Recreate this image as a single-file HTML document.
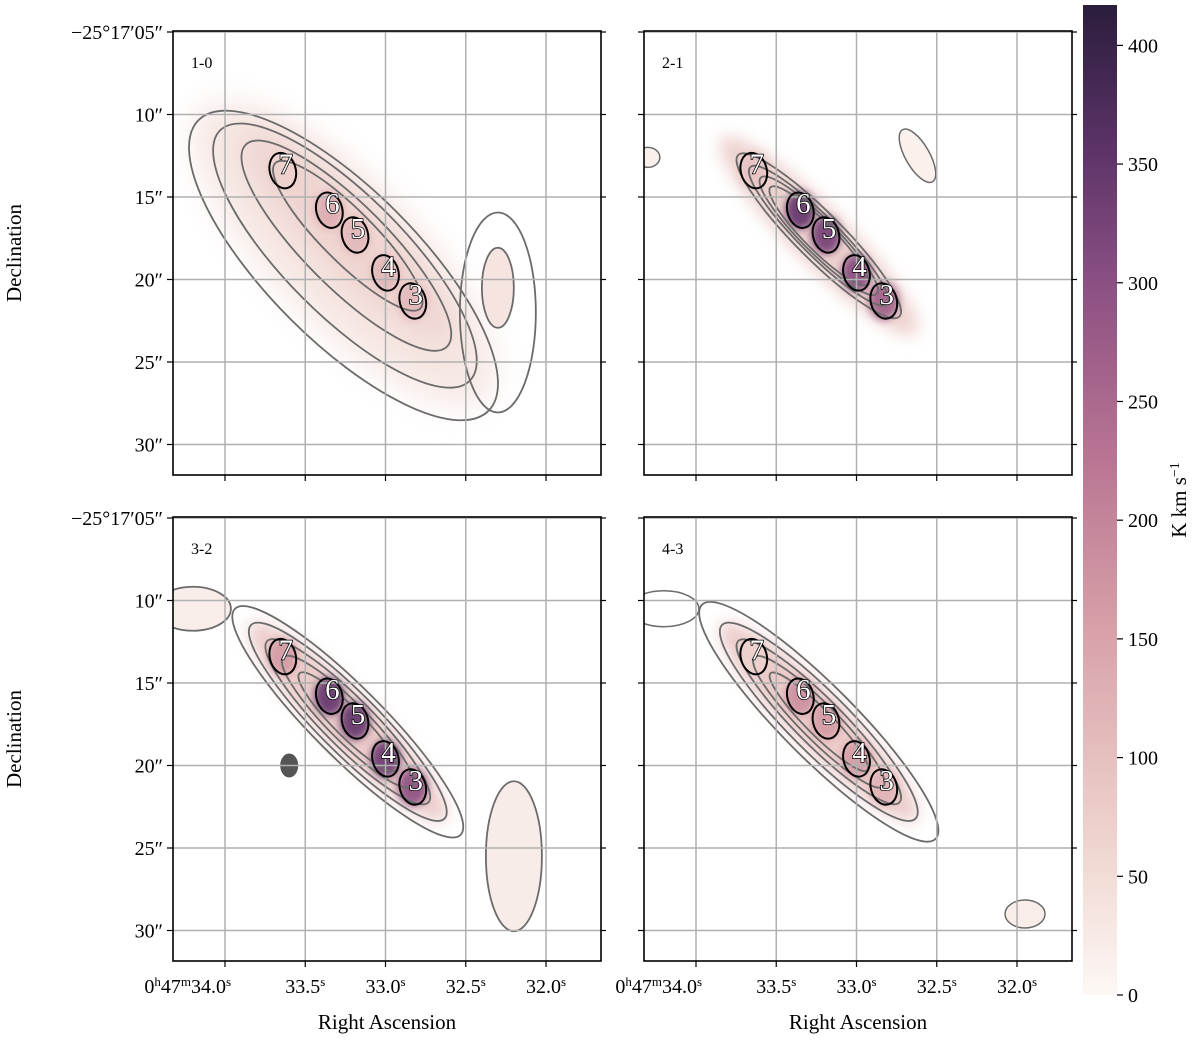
<!DOCTYPE html>
<html><head><meta charset="utf-8"><style>
body{margin:0;background:#fff;}
svg{display:block;font-family:"Liberation Serif",serif;}
</style></head><body>
<svg id="fig" width="1200" height="1045" viewBox="0 0 1200 1045" xmlns="http://www.w3.org/2000/svg">
<defs>
<filter id="blur8" x="-50%" y="-50%" width="200%" height="200%"><feGaussianBlur stdDeviation="8"/></filter>
<filter id="blur4" x="-50%" y="-50%" width="200%" height="200%"><feGaussianBlur stdDeviation="4"/></filter>
<filter id="blur16" x="-50%" y="-50%" width="200%" height="200%"><feGaussianBlur stdDeviation="16"/></filter>
<linearGradient id="cbar" x1="0" y1="1" x2="0" y2="0">
<stop offset="0" stop-color="#fdf8f6"/>
<stop offset="0.12" stop-color="#f2dcd6"/>
<stop offset="0.36" stop-color="#d9a3a9"/>
<stop offset="0.55" stop-color="#b77392"/>
<stop offset="0.72" stop-color="#8b4f83"/>
<stop offset="0.86" stop-color="#5a3266"/>
<stop offset="1" stop-color="#2b1d3c"/>
</linearGradient>
</defs>
<g id="panels"></g>
<g id="cb"></g>
</svg>
<script>
// source data
const sourceLabels = ["7","6","5","4","3"];
const sourceRA = [33.64, 33.35, 33.19, 33.00, 32.83];
const sourceDec = [13.4, 15.8, 17.3, 19.6, 21.3];
// per-panel peak intensities (K km/s) per source
const panelNames = ["1-0","2-1","3-2","4-3"];
const peak10 = [70, 130, 110, 110, 110];
const peak21 = [90, 340, 320, 300, 260];
const peak32 = [160, 340, 340, 330, 290];
const peak43 = [70, 180, 160, 160, 120];
const raTicks = [34.0, 33.5, 33.0, 32.5, 32.0];
const raTickLabels = ["0<tspan baseline-shift='super' font-size='13'>h</tspan>47<tspan baseline-shift='super' font-size='13'>m</tspan>34.0<tspan baseline-shift='super' font-size='13'>s</tspan>","33.5<tspan baseline-shift='super' font-size='13'>s</tspan>","33.0<tspan baseline-shift='super' font-size='13'>s</tspan>","32.5<tspan baseline-shift='super' font-size='13'>s</tspan>","32.0<tspan baseline-shift='super' font-size='13'>s</tspan>"];
const decTicks = [5, 10, 15, 20, 25, 30];
const decTickLabels = ["\u221225\u00b017\u203205\u2033","10\u2033","15\u2033","20\u2033","25\u2033","30\u2033"];
const cbTicks = [0,50,100,150,200,250,300,350,400];

const NS="http://www.w3.org/2000/svg";
function el(tag, attrs, parent){const e=document.createElementNS(NS,tag);for(const k in attrs)e.setAttribute(k,attrs[k]);if(parent)parent.appendChild(e);return e;}
const PW=428, PH=444;
const origins=[[173,31],[644,31],[173,517],[644,517]];
function xs(ra){return 52+(34.0-ra)*160.5;}
function ys(dec){return 1+(dec-5)*16.5;}
function color(v){
  const stops=[[0,[253,248,246]],[50,[242,220,214]],[150,[217,163,169]],[228,[183,115,146]],[300,[139,79,131]],[357,[90,50,102]],[415,[43,29,60]]];
  v=Math.max(0,Math.min(415,v));
  for(let i=1;i<stops.length;i++){if(v<=stops[i][0]){const a=stops[i-1],b=stops[i];const t=(v-a[0])/(b[0]-a[0]);return "rgb("+a[1].map((c,j)=>Math.round(c+(b[1][j]-c)*t)).join(",")+")";}}
}
const peaks=[peak10,peak21,peak32,peak43];
const contourSets=[
 [[0.9,1.0],[1.25,1.6],[1.55,2.3],[1.8,2.9]],
 [[0.6,0.55],[0.72,0.65],[0.85,0.75],[1.0,0.9]],
 [[0.6,0.55],[0.8,0.75],[1.0,0.95],[1.2,1.15],[1.4,1.35]],
 [[0.6,0.5],[0.8,0.7],[1.0,0.9],[1.2,1.15],[1.45,1.4]]
];
const root=document.getElementById('panels');
panelNames.forEach((name,p)=>{
  const [ox,oy]=origins[p];
  const g=el('g',{transform:`translate(${ox},${oy})`},root);
  
  
  const clipId='clip'+p;
  const cp=el('clipPath',{id:clipId},g);el('rect',{x:0,y:0,width:PW,height:PH},cp);
  const plot=el('g',{'clip-path':`url(#${clipId})`},g);
  el('rect',{x:0,y:0,width:PW,height:PH,fill:'#fff'},plot);
  const x0=xs(sourceRA[0]),y0=ys(sourceDec[0]),x1=xs(sourceRA[4]),y1=ys(sourceDec[4]);
  const ang=Math.atan2(y1-y0,x1-x0)*180/Math.PI;
  const cx=(x0+x1)/2,cy=(y0+y1)/2;
  const len=Math.hypot(x1-x0,y1-y0);
  if(p===0){
    el('ellipse',{cx:cx+10,cy:cy+15,rx:len*1.1,ry:70,fill:color(30),transform:`rotate(${ang} ${cx} ${cy})`,filter:'url(#blur16)'},plot);
    el('ellipse',{cx:cx,cy:cy,rx:len*0.8,ry:36,fill:color(65),transform:`rotate(${ang} ${cx} ${cy})`,filter:'url(#blur16)'},plot);
  } else {
    el('ellipse',{cx:cx,cy:cy,rx:len*0.75,ry:28,fill:color(p===1?70:80),transform:`rotate(${ang} ${cx} ${cy})`,filter:'url(#blur8)'},plot);
  }
  const pk=peaks[p];
  sourceLabels.forEach((s,i)=>{
    const b=el('ellipse',{cx:xs(sourceRA[i]),cy:ys(sourceDec[i]),rx:15,ry:19,fill:color(pk[i]),filter:'url(#blur4)',opacity:0.95},plot);
    
    
  });
  contourSets[p].forEach((c,k)=>{
    const rx=(len/2+22)*c[0], ry=26*c[1];
    const ce=el('ellipse',{cx:cx+(p===0?6*k:0),cy:cy+(p===0?8*k:0),rx:rx,ry:ry,fill:'none',stroke:'#6b6b6b','stroke-width':1.8,transform:`rotate(${ang} ${cx} ${cy})`},plot);
    
    
  });
  if(p===0){
    el('ellipse',{cx:xs(32.3),cy:ys(20.5),rx:16,ry:40,fill:color(35),stroke:'#6b6b6b','stroke-width':1.8},plot);
    el('ellipse',{cx:xs(32.3),cy:ys(22),rx:38,ry:100,fill:'none',stroke:'#6b6b6b','stroke-width':1.8},plot);
  }
  if(p===2){
    el('ellipse',{cx:xs(32.2),cy:ys(25.5),rx:28,ry:75,fill:color(22),stroke:'#6b6b6b','stroke-width':1.8},plot);
    el('ellipse',{cx:xs(34.2),cy:ys(10.5),rx:38,ry:22,fill:color(20),stroke:'#6b6b6b','stroke-width':1.8},plot);
    const beam=el('ellipse',{cx:xs(33.6),cy:ys(20),rx:9,ry:12,fill:'#555'},plot);
    
    
  }
  if(p===1){
    el('ellipse',{cx:xs(32.62),cy:ys(12.5),rx:12,ry:30,fill:color(15),stroke:'#6b6b6b','stroke-width':1.5,transform:`rotate(-30 ${xs(32.62)} ${ys(12.5)})`},plot);
    el('ellipse',{cx:xs(34.3),cy:ys(12.6),rx:12,ry:10,fill:color(15),stroke:'#6b6b6b','stroke-width':1.5},plot);
  }
  if(p===3){
    el('ellipse',{cx:xs(31.95),cy:ys(29),rx:20,ry:14,fill:color(20),stroke:'#6b6b6b','stroke-width':1.5},plot);
    el('ellipse',{cx:xs(34.2),cy:ys(10.5),rx:35,ry:18,fill:'none',stroke:'#6b6b6b','stroke-width':1.5},plot);
  }
  raTicks.forEach(t=>{el('line',{x1:xs(t),x2:xs(t),y1:0,y2:PH,stroke:'#b0b0b0','stroke-width':1.5},plot);});
  decTicks.forEach(t=>{el('line',{x1:0,x2:PW,y1:ys(t),y2:ys(t),stroke:'#b0b0b0','stroke-width':1.5},plot);});
  sourceLabels.forEach((s,i)=>{
    const sx=xs(sourceRA[i]),sy=ys(sourceDec[i]);
    const ap=el('ellipse',{cx:sx,cy:sy,rx:13,ry:18,fill:'none',stroke:'#000','stroke-width':2,transform:`rotate(-15 ${sx} ${sy})`},plot);
    
    
    const t=el('text',{x:sx+3,y:sy+3,'font-size':29,'text-anchor':'middle',fill:'#fff',stroke:'#000','stroke-width':1.5,'paint-order':'stroke'},plot);
    t.textContent=s;
    
    
  });
  const tl=el('text',{x:18,y:37,'font-size':16,fill:'#000'},plot);
  tl.textContent=name;
  
  
  el('rect',{x:0,y:0,width:PW,height:PH,fill:'none',stroke:'#000','stroke-width':1.6},g);
  raTicks.forEach((t,i)=>{
    el('line',{x1:xs(t),x2:xs(t),y1:PH,y2:PH+6,stroke:'#000','stroke-width':1.2},g);
  });
  decTicks.forEach((t,i)=>{
    el('line',{x1:0,x2:-6,y1:ys(t),y2:ys(t),stroke:'#000','stroke-width':1.2},g);
    el('line',{x1:PW,x2:PW+5,y1:ys(t),y2:ys(t),stroke:'#000','stroke-width':1.2},g);
    if(p%2===0){
      const lt=el('text',{x:-10,y:ys(t)+7,'font-size':20,'text-anchor':'end'},g);
      lt.textContent=decTickLabels[i];
      
      
    }
  });
  if(p>=2){
    raTicks.forEach((t,i)=>{
      const lt=el('text',{x:xs(t)+(i===0?6:0),y:PH+32,'font-size':20,'text-anchor':i===0?'end':'middle'},g);
      lt.innerHTML=raTickLabels[i];
      
      
    });
    const xl=el('text',{x:PW/2,y:PH+68,'font-size':21,'text-anchor':'middle'},g);
    xl.textContent='Right Ascension';
    
    
  }
  if(p%2===0){
    const yl=el('text',{x:-152,y:PH/2,'font-size':21,'text-anchor':'middle',transform:`rotate(-90 -152 ${PH/2})`},g);
    yl.textContent='Declination';
    
    
  }
});
const cb=document.getElementById('cb');
const cbTop=5,cbBot=995,cbMax=417;
function cy(v){return cbBot-(v/cbMax)*(cbBot-cbTop);}
el('rect',{x:1083,y:cbTop,width:34,height:cbBot-cbTop,fill:'url(#cbar)'},cb);
cbTicks.forEach(v=>{
  el('line',{x1:1117,x2:1123,y1:cy(v),y2:cy(v),stroke:'#000','stroke-width':1.2},cb);
  const t=el('text',{x:1128,y:cy(v)+7,'font-size':20},cb);
  t.textContent=v;
  
  
});
const cl=el('text',{x:1186,y:500,'font-size':21,'text-anchor':'middle',transform:'rotate(-90 1186 500)'},cb);
cl.innerHTML="K km s<tspan baseline-shift='super' font-size='14'>\u22121</tspan>";


</script>
</body></html>
